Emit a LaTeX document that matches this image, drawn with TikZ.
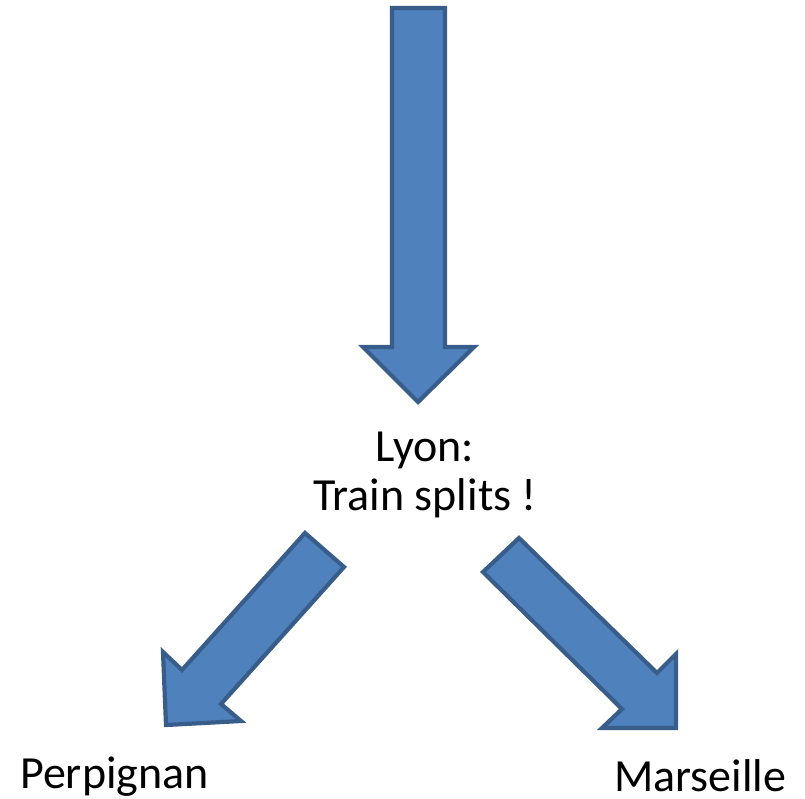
\documentclass[tikz,border=0pt]{standalone}
\usepackage{fontspec}
\setmainfont{Carlito}
\definecolor{arrowfill}{HTML}{4F81BD}
\definecolor{arrowline}{HTML}{385D8A}
\tikzset{
  blockarrow/.style={fill=arrowfill, draw=arrowline, line width=4.2pt, line join=miter},
  citylabel/.style={inner sep=0pt, font=\fontsize{46}{48}\selectfont, text=black}
}
\begin{document}
\begin{tikzpicture}[x=1pt,y=-1pt]
\useasboundingbox (0,0) rectangle (805,798);
% top arrow
\draw[blockarrow] (392,8) -- (445,8) -- (445,347) -- (474,347) -- (418,402)
  -- (363,347) -- (392,347) -- cycle;
% left arrow
\draw[blockarrow] (305,533) -- (344,567) -- (221,704) -- (241,721) -- (166,725)
  -- (163,652) -- (182,670) -- cycle;
% right arrow
\draw[blockarrow] (483,572) -- (519,538) -- (657,673) -- (676,654) -- (676,728)
  -- (602,728) -- (622,709) -- cycle;
% labels
\node[citylabel, anchor=base] (lyon) at (425,461) {Lyon:};
\node[citylabel, anchor=base] (split) at (425,510) {Train splits !};
\node[citylabel, anchor=base west] (perp) at (20,788) {Perpignan};
\node[citylabel, anchor=base west] (mars) at (614,791) {Marseille};
\end{tikzpicture}
\end{document}
